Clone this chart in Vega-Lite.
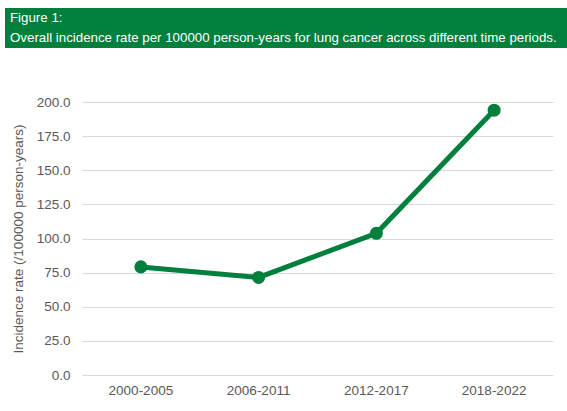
{
  "$schema": "https://vega.github.io/schema/vega-lite/v6.json",
  "background": "white",
  "padding": {"left": -5, "top": 8, "right": 0, "bottom": 0},
  "spacing": 47,
  "config": {"font": "Liberation Sans"},
  "vconcat": [
    {
      "width": 485,
      "height": 40,
      "view": {"fill": "#007f3d", "stroke": null},
      "data": {"values": [
        {"line": "Figure 1:"},
        {"line": "Overall incidence rate per 100000 person-years for lung cancer across different time periods."}
      ]},
      "mark": {"type": "text", "align": "left", "baseline": "middle", "color": "white", "fontSize": 13.3, "font": "Liberation Sans", "dx": -72},
      "encoding": {
        "x": {"value": 0},
        "y": {
          "field": "line", "type": "ordinal", "sort": null,
          "scale": {"paddingInner": 0, "paddingOuter": 0},
          "axis": {"title": null, "labels": false, "domain": false, "grid": false, "ticks": true, "tickSize": 77, "tickWidth": 20, "tickColor": "#007f3d", "tickCap": "butt", "translate": 0}
        },
        "text": {"field": "line", "type": "nominal"}
      }
    },
    {
      "width": 471,
      "height": 273,
      "view": {"stroke": null},
      "data": {"values": [
        {"period": "2000-2005", "rate": 79.2},
        {"period": "2006-2011", "rate": 71.5},
        {"period": "2012-2017", "rate": 103.8},
        {"period": "2018-2022", "rate": 194.0}
      ]},
      "encoding": {
        "x": {
          "field": "period", "type": "ordinal", "sort": null,
          "scale": {"type": "band", "paddingInner": 0, "paddingOuter": 0},
          "axis": {"title": null, "labelAngle": 0, "labelFontSize": 13.5, "labelColor": "#595959", "ticks": false, "domain": false, "labelPadding": 8}
        },
        "y": {
          "field": "rate", "type": "quantitative",
          "scale": {"domain": [0, 200]},
          "axis": {"title": "Incidence rate (/100000 person-years)", "titleFontSize": 13.5, "titleFontWeight": "normal", "titleColor": "#595959", "titlePadding": 11, "labelFontSize": 13.5, "labelColor": "#595959", "values": [0, 25, 50, 75, 100, 125, 150, 175, 200], "format": ".1f", "ticks": false, "domain": false, "labelPadding": 12, "gridColor": "#d9d9d9", "gridWidth": 1}
        }
      },
      "layer": [
        {"mark": {"type": "line", "color": "#007f3d", "strokeWidth": 5}},
        {"mark": {"type": "point", "filled": true, "opacity": 1, "color": "#007f3d", "size": 170}}
      ]
    }
  ]
}
